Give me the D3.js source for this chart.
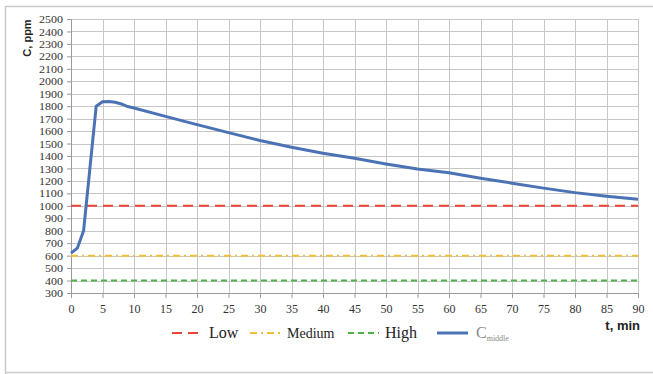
<!DOCTYPE html>
<html>
<head>
<meta charset="utf-8">
<script src="https://cdn.jsdelivr.net/npm/d3@7"></script>
<style>
  body { margin: 0; background: #fff; }
  svg { display: block; }
</style>
</head>
<body>
<svg width="653" height="374"></svg>
<script>
"use strict";

// time, min
const times = [0, 1, 2, 3, 4, 5, 6, 7, 8, 9, 10, 15, 20, 25, 30, 35, 40, 45, 50, 55, 60, 65, 70, 75, 80, 85, 90];
// CO2 concentration in the middle, ppm
const cMiddle = [620, 660, 800, 1300, 1800, 1835, 1838, 1832, 1818, 1797, 1785, 1718, 1652, 1588, 1524, 1470, 1422, 1382, 1336, 1295, 1266, 1222, 1182, 1142, 1106, 1077, 1052];
// threshold levels
const levelNames = ["Low", "Medium", "High"];
const levelValues = [1000, 600, 400];
const xTicks = d3.range(0, 91, 5);
const yTicks = d3.range(300, 2501, 100);

const svg = d3.select("svg");
const margin = {left: 71, right: 15, top: 19, bottom: 81};
const width = +svg.attr("width") - margin.left - margin.right;
const height = +svg.attr("height") - margin.top - margin.bottom;

const serif = "'Liberation Serif', 'Times New Roman', serif";
const sans = "'Liberation Sans', Arial, sans-serif";

// outer frame
svg.append("path")
    .attr("d", "M5.5,374 V6.5 H653 M5.5,372.5 H653")
    .attr("fill", "none")
    .attr("stroke", "#c9c9c9")
    .attr("stroke-width", 1.5);

const x = d3.scaleLinear().domain([0, 90]).range([0, width]);
const y = d3.scaleLinear().domain([300, 2500]).range([height, 0]);

const g = svg.append("g").attr("transform", `translate(${margin.left},${margin.top})`);

// grid
g.selectAll(".hgrid")
    .data(yTicks)
    .enter().append("line")
    .attr("class", "hgrid")
    .attr("x1", 0).attr("x2", width)
    .attr("y1", d => Math.round(y(d)) + 0.5).attr("y2", d => Math.round(y(d)) + 0.5)
    .attr("stroke", "#c6c6c6");

g.selectAll(".vgrid")
    .data(xTicks)
    .enter().append("line")
    .attr("class", "vgrid")
    .attr("y1", 0).attr("y2", height)
    .attr("x1", d => Math.round(x(d)) + 0.5).attr("x2", d => Math.round(x(d)) + 0.5)
    .attr("stroke", "#c6c6c6");

// axes
const xAxis = g.append("g")
    .attr("transform", `translate(0,${height})`)
    .call(d3.axisBottom(x).tickValues(xTicks).tickFormat(d3.format("d"))
        .tickSize(5).tickSizeOuter(0).tickPadding(4));
const yAxis = g.append("g")
    .call(d3.axisLeft(y).tickValues(yTicks).tickFormat(d3.format("d"))
        .tickSize(4).tickSizeOuter(0).tickPadding(4));

[xAxis, yAxis].forEach(a => {
    a.attr("font-family", null).attr("font-size", null);
    a.select(".domain").attr("stroke", "#9a9a9a");
    a.selectAll(".tick line").attr("stroke", "#9a9a9a");
    a.selectAll(".tick text")
        .style("font-family", serif)
        .style("font-size", "11.2px")
        .attr("fill", "#333");
});
xAxis.selectAll(".tick text").style("font-size", "12px").attr("dy", "0.9em");
yAxis.selectAll(".tick text").attr("textLength", 24).attr("lengthAdjust", "spacingAndGlyphs")
    .filter(d => d < 1000).attr("textLength", 18);

// levels
const levelColors = ["#e8443a", "#f2c038", "#4fb04a"];
const levelDash = ["10,6", "7,4,2,4", "6,4"];

g.selectAll(".level")
    .data(levelValues)
    .enter().append("line")
    .attr("class", "level")
    .attr("x1", 0).attr("x2", width)
    .attr("y1", d => y(d)).attr("y2", d => y(d))
    .attr("stroke", (d, i) => levelColors[i])
    .attr("stroke-width", 2)
    .attr("stroke-dasharray", (d, i) => levelDash[i]);

// C middle curve
const line = d3.line()
    .x((d, i) => x(times[i]))
    .y(d => y(d));

g.append("path")
    .datum(cMiddle)
    .attr("fill", "none")
    .attr("stroke", "#4a72b5")
    .attr("stroke-width", 3)
    .attr("stroke-linejoin", "round")
    .attr("d", line);

// axis titles
svg.append("text")
    .attr("transform", "translate(31,38) rotate(-90)")
    .attr("text-anchor", "middle")
    .style("font-family", sans)
    .attr("font-weight", "bold")
    .attr("font-size", "11px")
    .attr("fill", "#222")
    .text("C, ppm");

svg.append("text")
    .attr("x", 640).attr("y", 330)
    .attr("text-anchor", "end")
    .style("font-family", sans)
    .attr("font-weight", "bold")
    .attr("font-size", "13px")
    .attr("fill", "#222")
    .text("t, min");

// legend
const legend = svg.append("g").attr("transform", "translate(0,333)");
const legendX = [172, 250, 348];
const legendSize = ["16px", "14px", "16px"];

levelNames.forEach((name, i) => {
    legend.append("line")
        .attr("x1", legendX[i]).attr("x2", legendX[i] + 31)
        .attr("y1", 0).attr("y2", 0)
        .attr("stroke", levelColors[i])
        .attr("stroke-width", 2)
        .attr("stroke-dasharray", levelDash[i]);
    legend.append("text")
        .attr("x", legendX[i] + 37).attr("y", 5)
        .style("font-family", serif)
        .attr("font-size", legendSize[i])
        .attr("fill", "#222")
        .text(name);
});

legend.append("line")
    .attr("x1", 437).attr("x2", 468)
    .attr("y1", 0).attr("y2", 0)
    .attr("stroke", "#4a72b5")
    .attr("stroke-width", 3);

const cLabel = legend.append("text")
    .attr("x", 476).attr("y", 5)
    .style("font-family", serif)
    .attr("font-size", "16px")
    .attr("fill", "#888");
cLabel.append("tspan").text("C");
cLabel.append("tspan")
    .attr("font-size", "8px")
    .attr("dy", 3)
    .text("middle");
</script>
</body>
</html>
